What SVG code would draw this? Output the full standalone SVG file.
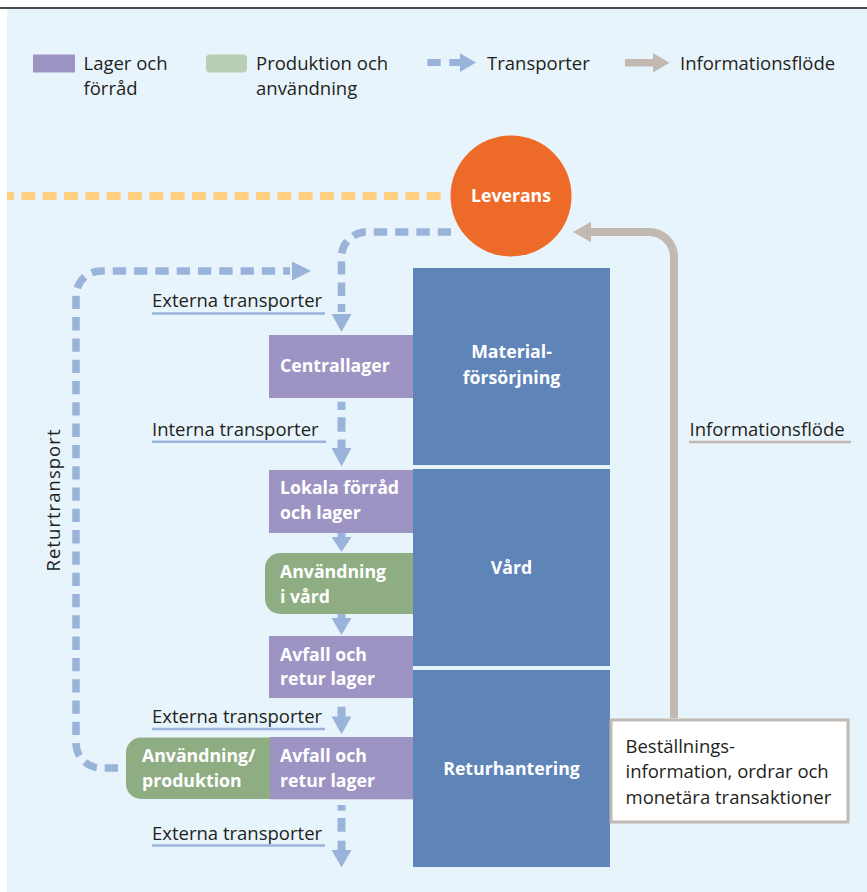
<svg xmlns="http://www.w3.org/2000/svg" width="867" height="892" viewBox="0 0 867 892">
<style>
text{font-family:"Open Sans","Noto Sans","Liberation Sans",sans-serif}
.t{font-size:18.5px;fill:#231f20}
.b{font-size:17.7px;font-weight:bold;fill:#fff}
.c{text-anchor:middle}
.dash{fill:none;stroke:#9AB3DA;stroke-width:7.5;stroke-dasharray:13.3 8}
.ah{fill:#9AB3DA}
.ul{stroke:#9AB3DA;stroke-width:2.5}
.ulg{stroke:#C2B9B3;stroke-width:2.5}
.purple{fill:#9D94C4}
.green{fill:#8FAD83}
.col{fill:#5F84B8}
.info{fill:none;stroke:#C2B9B3;stroke-width:8}
.infoh{fill:#C2B9B3}
</style>
<rect x="7" y="9" width="860" height="883" fill="#E8F4FC"/>
<line x1="0" y1="8" x2="867" y2="8" stroke="#111" stroke-width="1.6"/>

<g id="legend">
  <rect x="33" y="54.5" width="42" height="18" class="purple"/>
  <text class="t" x="83.5" y="70">Lager och</text>
  <text class="t" x="83.5" y="95">förråd</text>
  <rect x="206" y="54.5" width="41" height="18" rx="4" fill="#B8CFB5"/>
  <text class="t" x="256" y="70">Produktion och</text>
  <text class="t" x="256" y="95">användning</text>
  <rect x="427.3" y="59" width="13.4" height="7" class="ah"/>
  <rect x="449.3" y="59" width="11" height="7" class="ah"/>
  <polygon points="460,53.3 476,62.5 460,72" class="ah"/>
  <text class="t" x="487" y="69.5">Transporter</text>
  <rect x="625" y="59" width="29" height="7.5" class="infoh"/>
  <polygon points="653,53 669.5,62.7 653,72.4" class="infoh"/>
  <text class="t" x="680" y="69.5">Informationsflöde</text>
</g>

<line x1="7" y1="196" x2="441" y2="196" stroke="#FFD080" stroke-width="8" stroke-dasharray="14 7.33" stroke-dashoffset="7"/>

<g id="connectors">
  <!-- Leverans to Centrallager -->
  <path class="dash" d="M451 232 H366.5 A25 25 0 0 0 341.5 257 V312"/>
  <polygon class="ah" points="331.5,314 351.5,314 341.5,332"/>
  <!-- Returtransport -->
  <path class="dash" d="M118 768 H101 A25 25 0 0 1 76 743 V296 A25 25 0 0 1 101 271 H290"/>
  <polygon class="ah" points="292,261.5 311,271 292,280.5"/>
  <!-- Centrallager to Lokala -->
  <rect class="ah" x="337.5" y="401.7" width="8" height="8.3"/>
  <rect class="ah" x="337.5" y="417.3" width="8" height="14.4"/>
  <rect class="ah" x="337.5" y="439.5" width="8" height="9"/>
  <polygon class="ah" points="331.5,448 351.5,448 341.5,466.5"/>
  <!-- Lokala to Användning -->
  <rect class="ah" x="337.5" y="533" width="8" height="5"/>
  <polygon class="ah" points="331.5,537 351.5,537 341.5,552"/>
  <!-- Användning to Avfall -->
  <rect class="ah" x="337.5" y="614" width="8" height="5"/>
  <polygon class="ah" points="331.5,618 351.5,618 341.5,635"/>
  <!-- Avfall to bottom Avfall -->
  <rect class="ah" x="337.5" y="706.7" width="8" height="10.5"/>
  <polygon class="ah" points="331.5,716.5 351.5,716.5 341.5,734.3"/>
  <!-- bottom exit -->
  <rect class="ah" x="337.5" y="805" width="8" height="5.7"/>
  <rect class="ah" x="337.5" y="818" width="8" height="13.7"/>
  <rect class="ah" x="337.5" y="840.7" width="8" height="9.8"/>
  <polygon class="ah" points="331.5,850 351.5,850 341.5,867.3"/>
  <!-- Information flow -->
  <path class="info" d="M674 718 V257 A25 25 0 0 0 649 232 H589"/>
  <polygon class="infoh" points="591,221.7 573,232 591,242.3"/>
</g>

<g id="labels">
  <text class="t" x="152" y="307">Externa transporter</text>
  <line class="ul" x1="152" y1="313.5" x2="325" y2="313.5"/>
  <text class="t" x="152" y="436">Interna transporter</text>
  <line class="ul" x1="152" y1="441.7" x2="326" y2="441.7"/>
  <text class="t" x="152" y="723">Externa transporter</text>
  <line class="ul" x1="152" y1="729" x2="325" y2="729"/>
  <text class="t" x="152" y="840">Externa transporter</text>
  <line class="ul" x1="152" y1="845.5" x2="325" y2="845.5"/>
  <text class="t" x="689.5" y="435.7">Informationsflöde</text>
  <line class="ulg" x1="689" y1="442" x2="851" y2="442"/>
  <text class="t" transform="translate(59.5 571.5) rotate(-90)" textLength="142" lengthAdjust="spacing">Returtransport</text>
</g>

<g id="leverans">
  <circle cx="511" cy="196" r="60.5" fill="#EE6A28"/>
  <text class="b c" x="511" y="201.7">Leverans</text>
</g>

<g id="materialforsorjning">
  <rect class="col" x="413" y="268" width="197" height="197"/>
  <text class="b c" x="511.5" y="357.7">Material-</text>
  <text class="b c" x="511.5" y="384">försörjning</text>
</g>
<g id="vard">
  <rect class="col" x="413" y="469" width="197" height="197"/>
  <text class="b c" x="511.5" y="574">Vård</text>
</g>
<g id="returhantering">
  <rect class="col" x="413" y="670" width="197" height="197"/>
  <text class="b c" x="511.5" y="775">Returhantering</text>
</g>

<g id="centrallager">
  <rect class="purple" x="269" y="335" width="144" height="63"/>
  <text class="b" x="280" y="372">Centrallager</text>
</g>
<g id="lokala-forrad">
  <rect class="purple" x="269" y="470" width="144" height="63"/>
  <text class="b" x="280" y="494">Lokala förråd</text>
  <text class="b" x="280" y="519">och lager</text>
</g>
<g id="anvandning-vard">
  <path class="green" d="M413 553 H280 A15 15 0 0 0 265 568 V599 A15 15 0 0 0 280 614 H413 Z"/>
  <text class="b" x="280" y="577.7">Användning</text>
  <text class="b" x="280" y="602.7">i vård</text>
</g>
<g id="avfall-1">
  <rect class="purple" x="269" y="636" width="144" height="62"/>
  <text class="b" x="280" y="661">Avfall och</text>
  <text class="b" x="280" y="685">retur lager</text>
</g>
<g id="anvandning-produktion">
  <path class="green" d="M271 737.5 H141 A15 15 0 0 0 126 752.5 V784 A15 15 0 0 0 141 799 H271 Z"/>
  <text class="b" x="142" y="761.7">Användning/</text>
  <text class="b" x="142" y="786.7">produktion</text>
</g>
<g id="avfall-2">
  <rect class="purple" x="270" y="737" width="143" height="62.3"/>
  <text class="b" x="280" y="761.7">Avfall och</text>
  <text class="b" x="280" y="786.7">retur lager</text>
</g>

<g id="bestallning">
  <rect x="611" y="720" width="237" height="102" fill="#fff" stroke="#C2B9B3" stroke-width="3"/>
  <text class="t" x="625.5" y="752.7">Beställnings-</text>
  <text class="t" x="625.5" y="778">information, ordrar och</text>
  <text class="t" x="625.5" y="803.5">monetära transaktioner</text>
</g>
</svg>
